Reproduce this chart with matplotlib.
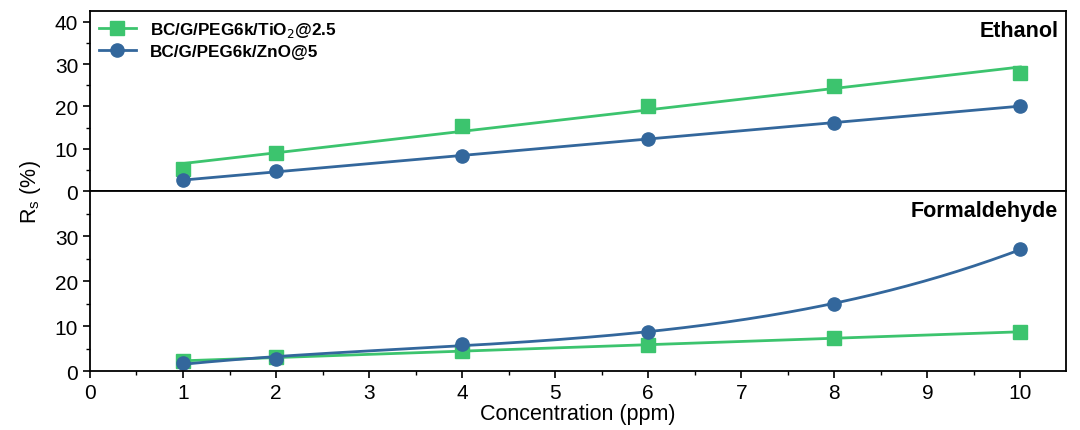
import numpy as np
import matplotlib.pyplot as plt

plt.rcParams['font.family'] = ['Liberation Sans', 'DejaVu Sans']

conc = [1, 2, 4, 6, 8, 10]
eth_tio2 = [5.2, 9.1, 15.3, 20.1, 24.9, 27.9]
eth_zno = [2.6, 4.7, 8.4, 12.3, 16.2, 20.1]
form_tio2 = [2.2, 3.2, 4.5, 5.9, 7.3, 8.8]
form_zno = [1.8, 2.8, 6.0, 8.8, 15.0, 27.1]

green = '#3cc46e'
blue = '#33679c'
labels = ['BC/G/PEG6k/TiO$_2$@2.5', 'BC/G/PEG6k/ZnO@5']

fig = plt.figure(figsize=(10.8, 4.31), dpi=100)
ax1 = fig.add_axes([0.0833, 0.5538, 0.9037, 0.4184])
ax2 = fig.add_axes([0.0833, 0.1362, 0.9037, 0.4176], sharex=ax1)

x = np.array(conc, dtype=float)
xs = np.linspace(1, 10, 200)


def draw(ax, y, color, marker, label, deg):
    p = np.polyfit(x, y, deg)
    ax.plot(xs, np.polyval(p, xs), color=color, lw=2)
    ax.plot(x, y, ls='none', marker=marker, color=color, ms=9.5)
    ax.plot([], [], color=color, lw=2, marker=marker, ms=9.5, label=label)


draw(ax1, eth_tio2, green, 's', labels[0], 1)
draw(ax1, eth_zno, blue, 'o', labels[1], 1)
draw(ax2, form_tio2, green, 's', None, 1)
draw(ax2, form_zno, blue, 'o', None, 3)

ax1.set_ylim(0, 42.5)
ax2.set_ylim(0, 37.3)
ax1.set_yticks([0, 10, 20, 30, 40])
ax2.set_yticks([0, 10, 20, 30])
ax2.set_xlim(0, 10.49)
ax2.set_xticks(range(0, 11))
ax2.set_xticks(np.arange(0, 10.5, 0.5), minor=True)
for ax in (ax1, ax2):
    ax.set_yticks(np.arange(0, 41, 5), minor=True)
    ax.tick_params(axis='both', which='major', direction='out', length=5, width=1.2, labelsize=15)
    ax.tick_params(axis='both', which='minor', direction='out', length=3, width=1)
    for s in ax.spines.values():
        s.set_linewidth(1.3)
ax2.set_yticks(np.arange(0, 36, 5), minor=True)
ax1.tick_params(axis='x', which='both', bottom=False, labelbottom=False)

ax1.legend(loc='upper left', frameon=False, prop={'weight': 'bold', 'size': 12.3},
           handlelength=2.2, borderaxespad=0.1, labelspacing=0.3)
ax1.text(0.992, 0.95, 'Ethanol', transform=ax1.transAxes, ha='right', va='top',
         fontsize=15.5, fontweight='bold')
ax2.text(0.992, 0.95, 'Formaldehyde', transform=ax2.transAxes, ha='right', va='top',
         fontsize=15.5, fontweight='bold')

ax2.set_xlabel('Concentration (ppm)', fontsize=15.5, labelpad=1)
fig.text(0.028, 0.555, 'R$_\\mathregular{s}$ (%)', rotation=90, ha='center', va='center', fontsize=15.5)

fig.savefig('out.png', dpi=100)
